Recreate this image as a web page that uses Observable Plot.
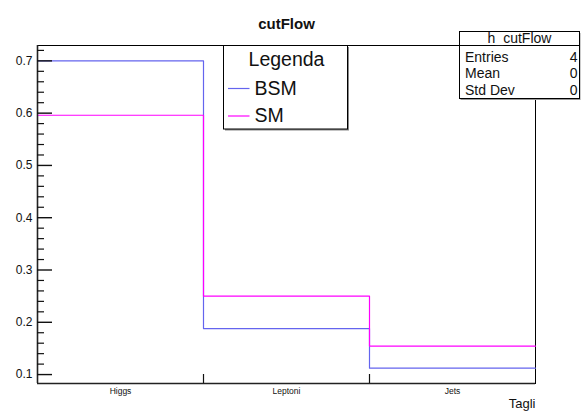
<!DOCTYPE html>
<html>
<head>
<meta charset="utf-8">
<script src="https://cdn.jsdelivr.net/npm/d3@7"></script>
<script src="https://cdn.jsdelivr.net/npm/@observablehq/plot@0.6"></script>
<style>
  html, body { margin: 0; padding: 0; background: #fff; }
  svg { display: block; font-family: "Liberation Sans", Arial, Helvetica, sans-serif; }
</style>
</head>
<body>
<div id="chart"></div>
<script>
// cut-flow efficiencies per selection step
const cuts = ["Higgs", "Leptoni", "Jets"];
const bsm = [0.7, 0.188, 0.1123];
const sm = [0.596, 0.25, 0.1545];
const seriesNames = ["BSM", "SM"];
const seriesColors = ["#6464ee", "#ff00ff"];
const yMajor = [0.1, 0.2, 0.3, 0.4, 0.5, 0.6, 0.7];
const statLabels = ["Entries", "Mean", "Std Dev"];
const statValues = ["4", "0", "0"];
const histName = "h_cutFlow";
const title = "cutFlow";
const xTitle = "Tagli";
const legendHeader = "Legenda";

const W = 581, H = 417;
const mL = 37, mR = 46, mT = 45, mB = 34;
const frameW = W - mL - mR, frameH = H - mT - mB;

// y range padded by 5% of the first histogram's span
const lo = d3.min(bsm), hi = d3.max(bsm);
const pad = 0.05 * (hi - lo);
const yDomain = [lo - pad, hi + pad];

// minor ticks every 0.02 inside the frame
const yMinor = d3.range(5, 40).filter(k => k % 5 !== 0).map(k => k / 50)
  .filter(v => v >= yDomain[0] && v <= yDomain[1]);

// step outline: one point per bin edge, last bin closed at the right edge
function steps(values, name) {
  const pts = values.map((v, i) => ({x: i, y: v, s: name}));
  pts.push({x: values.length, y: values[values.length - 1], s: name});
  return pts;
}
const bsmSteps = steps(bsm, seriesNames[0]);
const smSteps = steps(sm, seriesNames[1]);

const chart = Plot.plot({
  width: W,
  height: H,
  marginLeft: mL,
  marginRight: mR,
  marginTop: mT,
  marginBottom: mB,
  x: {domain: [0, cuts.length], axis: null},
  y: {domain: yDomain, axis: null},
  color: {domain: seriesNames, range: seriesColors},
  style: {fontFamily: "'Liberation Sans', Arial, Helvetica, sans-serif", background: "white"},
  marks: [
    Plot.frame({stroke: "black", strokeWidth: 1}),
    // histograms
    Plot.line(bsmSteps, {x: "x", y: "y", stroke: "s", curve: "step-after", strokeWidth: 1.2}),
    Plot.line(smSteps, {x: "x", y: "y", stroke: "s", curve: "step-after", strokeWidth: 1.2}),
    // axis lines
    Plot.ruleX([0], {x: d => d, stroke: "#222", strokeWidth: 1.6}),
    Plot.ruleY([yDomain[0]], {y: d => d, stroke: "#222", strokeWidth: 1.6}),
    // y ticks pointing into the frame
    Plot.tickY(yMajor, {y: d => d, insetRight: frameW - 15, stroke: "#111", strokeWidth: 1.4}),
    Plot.tickY(yMinor, {y: d => d, insetRight: frameW - 7, stroke: "#111", strokeWidth: 1.2}),
    Plot.axisY(yMajor, {tickSize: 0, tickPadding: 5, tickFormat: d3.format(".1f"), label: null, fontSize: 12, fill: "#111"}),
    // x ticks at bin boundaries
    Plot.tickX(d3.range(1, cuts.length), {x: d => d, insetTop: frameH - 9, stroke: "#111", strokeWidth: 1.2}),
    // bin labels
    Plot.text(cuts, {x: (d, i) => i + 0.5, text: d => d, frameAnchor: "bottom", dy: 10, fontSize: 8.5, fill: "#111"}),
    // axis title
    Plot.text([xTitle], {text: d => d, frameAnchor: "bottom-right", textAnchor: "end", dy: 24, fontSize: 13, fill: "#111"}),
    // histogram title
    Plot.text([title], {text: d => d, frameAnchor: "top", x: null, dy: -27, fontSize: 15, fontWeight: "bold", fill: "#111"})
  ]
});

document.getElementById("chart").appendChild(chart);

const svg = d3.select(chart);
const font = "'Liberation Sans', Arial, Helvetica, sans-serif";

// legend box with drop shadow
const leg = svg.append("g").attr("text-anchor", "start");
const lx = 223.5, ly = 45.5, lw = 124, lh = 83.5;
leg.append("rect").attr("x", lx + 1.5).attr("y", ly + 1.5).attr("width", lw).attr("height", lh).attr("fill", "#888");
leg.append("rect").attr("x", lx).attr("y", ly).attr("width", lw).attr("height", lh)
  .attr("fill", "white").attr("stroke", "black").attr("stroke-width", 1);
leg.append("text").attr("x", lx + 63).attr("y", 65.5).attr("text-anchor", "middle")
  .attr("font-family", font).attr("font-size", 19.5).attr("fill", "#111").text(legendHeader);
seriesNames.forEach((name, i) => {
  const yLine = 88.5 + i * 27.5;
  leg.append("line").attr("x1", 228).attr("x2", 249.5).attr("y1", yLine).attr("y2", yLine)
    .attr("stroke", seriesColors[i]).attr("stroke-width", 1.2);
  leg.append("text").attr("x", 254.5).attr("y", 94.5 + i * 27).attr("text-anchor", "start")
    .attr("font-family", font).attr("font-size", 19.5).attr("fill", "#111").text(name);
});

// statistics box
const st = svg.append("g").attr("text-anchor", "start");
const sx = 459.5, sy = 31.5, sw = 120, sh = 67;
st.append("rect").attr("x", sx + 1).attr("y", sy + 1.5).attr("width", sw).attr("height", sh).attr("fill", "#999");
st.append("rect").attr("x", sx).attr("y", sy).attr("width", sw).attr("height", sh)
  .attr("fill", "white").attr("stroke", "black").attr("stroke-width", 1);
st.append("line").attr("x1", sx).attr("x2", sx + sw).attr("y1", 45.5).attr("y2", 45.5)
  .attr("stroke", "black").attr("stroke-width", 1);
st.append("text").attr("x", sx + sw / 2).attr("y", 43).attr("text-anchor", "middle")
  .attr("font-family", font).attr("font-size", 14).attr("fill", "#111").text(histName);
statLabels.forEach((lab, i) => {
  const yb = 61.5 + i * 16.5;
  st.append("text").attr("x", 465).attr("y", yb).attr("text-anchor", "start")
    .attr("font-family", font).attr("font-size", 14).attr("fill", "#111").text(lab);
  st.append("text").attr("x", 577.5).attr("y", yb).attr("text-anchor", "end")
    .attr("font-family", font).attr("font-size", 14).attr("fill", "#111").text(statValues[i]);
});
</script>
</body>
</html>
